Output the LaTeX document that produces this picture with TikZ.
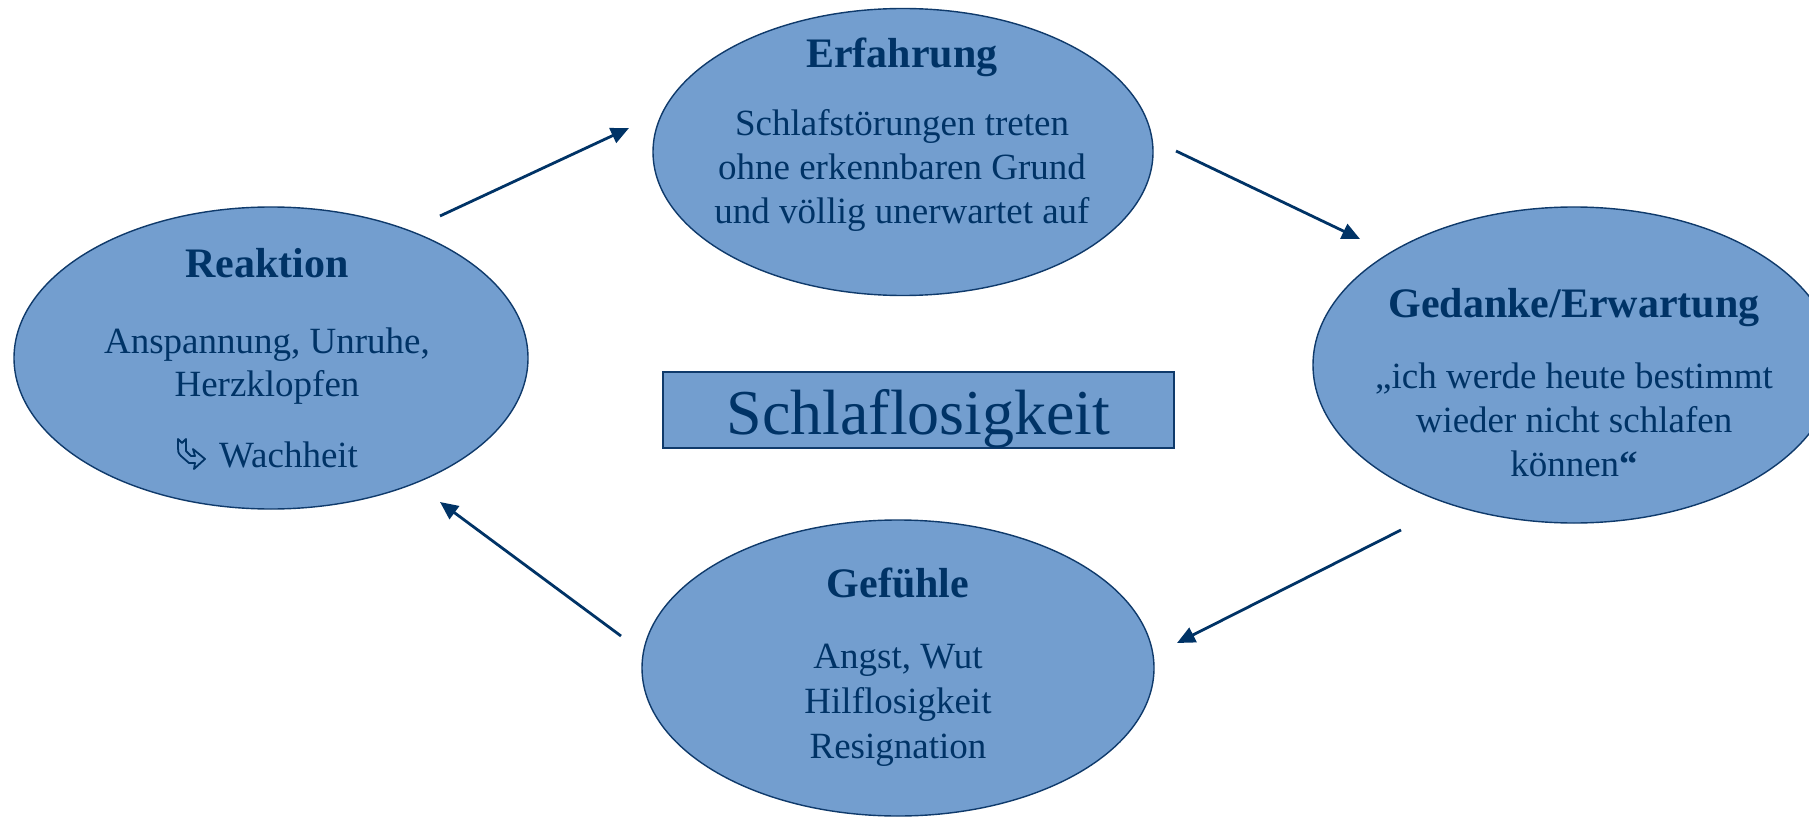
\documentclass[tikz,border=0pt]{standalone}
\usepackage{fontspec}
\setmainfont{Liberation Serif}
\usetikzlibrary{arrows.meta,shapes.geometric}
\definecolor{fillblue}{HTML}{739ECF}
\definecolor{navy}{HTML}{003366}
\definecolor{edge}{HTML}{0F3A6B}
\tikzset{
  bubble/.style={ellipse, draw=edge, fill=fillblue, line width=1.4pt, inner sep=0pt},
  title/.style={font=\fontsize{42}{48}\selectfont\bfseries, text=navy, inner sep=0pt, anchor=base},
  body/.style={font=\fontsize{37}{44}\selectfont, text=navy, inner sep=0pt, anchor=base},
  arr/.style={draw=navy, line width=2.8pt, -{Triangle[length=18pt,width=16pt]}},
  sym/.style={draw=navy, line width=1.8pt, line join=round}
}
\begin{document}
\begin{tikzpicture}[x=1pt,y=-1pt]
\useasboundingbox (0,0) rectangle (1809,818);
\clip (0,0) rectangle (1809,818);
\fill[white] (0,0) rectangle (1809,818);

% ellipses
\node[bubble, minimum width=500pt, minimum height=287pt] (erf) at (903,152) {};
\node[bubble, minimum width=514pt, minimum height=302pt] (rea) at (271,358) {};
\node[bubble, minimum width=522pt, minimum height=316pt] (ged) at (1574,365) {};
\node[bubble, minimum width=512pt, minimum height=296pt] (gef) at (898,668) {};

% central box
\node[draw=edge, fill=fillblue, line width=1.4pt, minimum width=511pt, minimum height=76pt, inner sep=0pt] (box) at (918.5,410) {};
\node[font=\fontsize{64}{70}\selectfont, text=navy, inner sep=0pt, anchor=base] (boxt) at (918.5,434) {Schlaflosigkeit};

% Erfahrung
\node[title] (erft) at (902,68) {Erfahrung};
\node[body] (erf1) at (902,136) {Schlafstörungen treten};
\node[body] (erf2) at (902,180) {ohne erkennbaren Grund};
\node[body] (erf3) at (902,224) {und völlig unerwartet auf};

% Reaktion
\node[title] (reat) at (267,278) {Reaktion};
\node[body] (rea1) at (267,353) {Anspannung, Unruhe,};
\node[body] (rea2) at (267,396) {Herzklopfen};
\node[body, anchor=base west] (rea3) at (219,467) {Wachheit};
\draw[sym] (178,439) -- (182,443) -- (186,439) -- (186,451) -- (191,456) -- (195,456)
  -- (193,449) -- (205,459) -- (194,469) -- (195,463) -- (189,463)
  -- (181,456) .. controls (178,453) and (178,451) .. (178,448) -- cycle;

% Gedanke
\node[title] (gedt) at (1574,317) {Gedanke/Erwartung};
\node[body] (ged1) at (1574,388) {„ich werde heute bestimmt};
\node[body] (ged2) at (1574,432) {wieder nicht schlafen};
\node[body] (ged3) at (1574,476) {können\textbf{“}};

% Gefuehle
\node[title] (geft) at (898,597) {Gefühle};
\node[body] (gef1) at (898,668) {Angst, Wut};
\node[body] (gef2) at (898,713) {Hilflosigkeit};
\node[body] (gef3) at (898,758) {Resignation};

% arrows
\coordinate (a1s) at (440,216);
\coordinate (a1e) at (629,128);
\coordinate (a2s) at (1176,151);
\coordinate (a2e) at (1360,239);
\coordinate (a3s) at (1401,530);
\coordinate (a3e) at (1177,643);
\coordinate (a4s) at (621,636);
\coordinate (a4e) at (440,502);
\draw[arr] (a1s) -- (a1e);
\draw[arr] (a2s) -- (a2e);
\draw[arr] (a3s) -- (a3e);
\draw[arr] (a4s) -- (a4e);
\end{tikzpicture}
\end{document}
